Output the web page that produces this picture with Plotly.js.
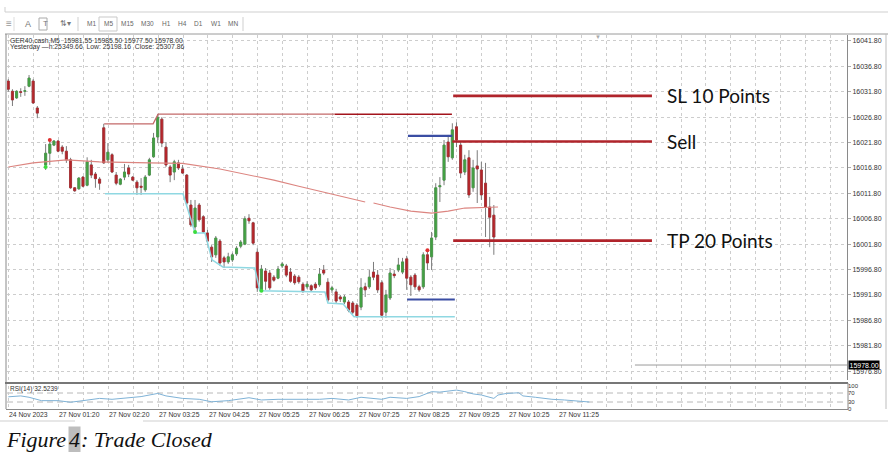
<!DOCTYPE html>
<html><head><meta charset="utf-8">
<script src="https://cdn.plot.ly/plotly-3.0.1.min.js"></script>
<style>body{margin:0;background:#fff}#chart{width:888px;height:452px}</style>
</head><body><div id="chart"></div>
<script>
// ---------- DATA ----------
const open = [16033.9,16031.9,16030.6,16031.8,16031.9,16032.9,16033.9,16028.6,null,
16017.4,16019.7,16021.3,16022.1,16020.9,16020.1,16018.4,16012.9,16012.7,16015.0,
16013.4,16017.4,16015.6,16014.6,16024.7,16018.4,16019.4,16015.4,16013.6,16015.0,
16016.8,16015.0,16014.0,16013.2,16012.5,16015.4,16019.0,16022.9,16026.4,16020.9,
16017.0,16016.0,16017.8,16016.6,16015.4,16009.5,16005.2,16009.5,16007.2,16004.0,
16001.2,15999.7,16002.4,15999.1,15998.3,15998.7,15999.9,16001.4,16001.8,16006.9,
16006.0,16000.2,15992.8,15996.5,15996.1,15995.3,15995.1,15997.5,15997.5,15996.3,
15995.5,15995.3,15993.9,15993.4,15993.6,15993.9,15993.8,15996.7,15994.3,15992.8,
15992.4,15991.4,15990.4,15990.4,15990.2,15989.8,15989.4,15993.4,15993.4,15996.3,
15995.7,15994.2,15988.4,15991.2,15995.9,15996.7,15996.3,15998.9,15995.3,15995.7,
15993.4,15993.4,15999.7,15999.3,16003.2,16013.1,16014.4,16021.9,16018.8,16024.9,
16021.3,16016.0,16018.8,16012.9,16017.2,16016.4,16013.8,16009.1,16007.5];
const high = [16034.3,16032.3,16032.1,16032.5,16032.9,16035.1,16034.3,16029.0,null,
16021.5,16022.3,16022.3,16022.3,16021.3,16021.1,16018.8,16013.0,16015.0,16015.2,
16018.9,16018.4,16016.0,16015.0,16025.5,16021.7,16019.7,16016.0,16014.8,16017.6,
16017.4,16015.2,16014.4,16014.8,16015.4,16018.8,16023.7,16027.4,16026.8,16021.9,
16017.4,16018.4,16018.4,16017.4,16015.6,16010.5,16010.5,16009.9,16007.5,16004.6,
16001.6,16003.4,16002.8,15999.5,16000.1,16000.1,16001.4,16002.6,16007.3,16007.7,
16006.2,16001.0,15997.7,15997.1,15996.7,15995.7,15997.5,15998.3,15997.9,15997.1,
15995.9,15995.7,15994.3,15994.5,15993.9,15994.3,15997.1,15997.7,15995.1,15993.6,
15993.0,15991.8,15991.8,15990.8,15990.6,15990.2,15995.1,15994.2,15996.7,15998.3,
15996.7,15994.7,15992.8,15997.1,15996.7,15999.1,15999.1,15999.5,15995.7,15996.1,
15993.8,16000.2,16000.6,16004.2,16013.8,16015.0,16022.3,16023.3,16025.6,16025.8,
16021.9,16019.4,16020.3,16018.4,16020.3,16018.0,16017.8,16011.1,16009.5];
const low = [16031.8,16029.0,16030.4,16030.8,16031.0,16032.7,16029.4,16026.6,null,
16016.4,16017.4,16021.1,16019.9,16019.5,16017.8,16012.7,16012.1,16012.5,16013.0,
16013.2,16014.8,16012.9,16012.5,16017.6,16017.8,16015.8,16013.4,16013.4,16014.4,
16015.0,16014.2,16011.5,16011.5,16012.1,16015.2,16018.8,16021.7,16020.9,16017.0,
16014.0,16014.4,16016.4,16015.6,16009.5,16005.2,16004.0,16006.2,16004.0,16001.6,
15998.3,15999.1,15997.5,15997.1,15997.9,15998.3,15999.5,16001.0,16001.6,16005.8,
16001.6,15992.4,15992.4,15992.8,15992.8,15994.4,15994.9,15997.1,15995.3,15994.2,
15993.8,15994.0,15992.2,15993.0,15992.4,15992.8,15993.4,15995.7,15990.4,15992.2,
15990.2,15990.4,15990.0,15988.4,15988.0,15987.3,15988.8,15991.4,15993.0,15994.7,
15992.2,15987.3,15987.3,15990.8,15995.1,15996.3,15995.9,15992.8,15991.6,15992.8,
15992.4,15993.0,15996.7,15996.7,16002.6,16010.1,16013.4,16018.0,16018.4,16020.9,
16014.8,16015.4,16010.9,16012.1,16009.9,16010.5,16003.2,16001.2,15999.7];
const close = [16032.3,16030.2,16031.9,16031.7,16032.0,16034.5,16029.6,16027.6,null,
16019.7,16021.5,16022.1,16020.1,16020.1,16018.4,16012.9,16012.3,16014.8,16013.2,
16018.0,16015.4,16014.7,16013.8,16017.8,16019.9,16016.0,16013.8,16014.6,16016.0,
16015.6,16014.4,16012.9,16013.0,16015.0,16018.4,16022.7,16026.8,16021.7,16017.4,
16015.4,16018.0,16016.8,16015.8,16009.9,16005.6,16008.9,16006.6,16004.2,16002.4,
15999.3,16003.0,15998.1,15998.3,15999.3,15999.7,16001.0,16002.2,16006.8,16006.4,
16002.0,15993.2,15996.9,15994.5,15993.2,15994.7,15996.9,15997.9,15995.7,15994.5,
15994.2,15994.4,15992.6,15993.9,15992.8,15993.2,15995.9,15996.1,15990.8,15993.2,
15990.6,15991.0,15991.4,15988.8,15988.4,15987.7,15993.2,15992.8,15995.3,15995.3,
15992.8,15987.8,15991.8,15996.1,15995.6,15997.7,15998.3,15995.1,15993.8,15993.4,
15992.8,15999.7,15998.1,16003.0,16012.9,16013.3,16021.3,16019.0,16024.3,16022.3,
16015.8,16018.4,16011.5,16016.8,16016.6,16011.5,16009.1,16007.1,16003.2];

// moving average (bar index, value), null = gap in the line
const maBar = [0,6,14,22,34,42,51,64,70,78,86,87,88,92,97,102,106,110,118];
const maVal = [16017.0,16017.8,16018.4,16018.0,16017.8,16017.7,16016.6,16014.4,16013.2,16011.7,16010.1,null,16009.9,16009.1,16008.3,16007.9,16008.3,16008.9,16009.1];

// indicator step lines
const upBar = [23.1,34.9,36.1,78.7];
const upVal = [16025.5,16025.5,16027.4,16027.4];
const upBar2 = [78.7,106.9];
const upVal2 = [16027.4,16027.4];
const loBar = [23.3,42.1,45.0,47.4,49.1,51.7,59.4,60.6,76.3,77.0,80.7,83.3,107.6];
const loVal = [16011.7,16011.7,16004.0,16004.0,15998.7,15997.3,15997.1,15992.6,15992.4,15990.2,15990.0,15987.5,15987.5];
const greenDotBar = [9,45,61];
const greenDotVal = [16017.0,16004.2,15992.6];
const redDotBar = [10,101];
const redDotVal = [16022.3,16000.6];

// trade levels
const tradeNames = ['SL 10 Points','Sell','TP 20 Points'];
const tradePrice = [16031.0,16022.0,16002.5];
const tradeFrom = [107.2,107.0,107.2];
const tradeTo = [155.1,155.1,155.1];
const blueLevel = [16023.1,15990.9];
const blueFrom = [96.3,96.1];
const blueTo = [107.0,107.6];
const bidPrice = 15978.0;
const bidFrom = 151;

// RSI(14)
const rsiBar = [0,3,5,8,12,15,18,22,25,29,32,36,38,42,46,49,53,58,61,65,68,72,75,78,82,85,90,92,96,99,102,104,106,108,110,112,114,117,118,120,123,124,127,131,134,137,138,140];
const rsiVal = [53,57,51,36,36,29,36,46,42,49,54,68,57,46,42,31,36,49,39,42,42,39,42,46,39,51,42,51,46,54,76,74,80,83,76,66,61,46,61,68,71,57,51,42,39,35,36,30];
const rsiLevels = [70,30];

// axis ticks / labels
const priceTicks = [16041.8,16036.8,16031.8,16026.8,16021.8,16016.8,16011.8,16006.8,16001.8,15996.8,15991.8,15986.8,15981.8,15976.8];
const rsiTicks = [0,30,70,100];
const timeLabels = ['24 Nov 2023','27 Nov 01:20','27 Nov 02:20','27 Nov 03:25','27 Nov 04:25','27 Nov 05:25','27 Nov 06:25','27 Nov 07:25','27 Nov 08:25','27 Nov 09:25','27 Nov 10:25','27 Nov 11:25'];
const timeBars = [-0.3,11.7,23.8,35.8,47.9,59.9,71.9,84.0,96.0,108.1,120.1,132.1];
const tfButtons = ['M1','M5','M15','M30','H1','H4','D1','W1','MN'];

// ---------- LAYOUT ----------
const W=888,H=452;
const px = x=>x/W, py = y=>1-y/H;
const bars = open.map((_,i)=>i);
const xRange = [-0.31, 202.1];
const FONT = 'Liberation Sans';
const RED='#b3262b', GREEN='#43a043';

const bodyHi = open.map((o,i)=>o==null?null:Math.max(o,close[i]));
const bodyLo = open.map((o,i)=>o==null?null:Math.min(o,close[i]));

const traces = [];
traces.push({type:'candlestick',x:bars,open:open,high:high,low:low,close:close,xaxis:'x',yaxis:'y',
  increasing:{line:{color:'#7c7c7c',width:1},fillcolor:'rgba(0,0,0,0)'},
  decreasing:{line:{color:'#7c7c7c',width:1},fillcolor:'rgba(0,0,0,0)'},
  whiskerwidth:0,showlegend:false,hoverinfo:'skip'});
traces.push({type:'candlestick',x:bars,open:open,high:bodyHi,low:bodyLo,close:close,xaxis:'x',yaxis:'y',
  increasing:{line:{color:GREEN,width:0.6},fillcolor:GREEN},
  decreasing:{line:{color:RED,width:0.6},fillcolor:RED},
  whiskerwidth:0,showlegend:false,hoverinfo:'skip'});
traces.push({type:'scatter',mode:'lines',x:maBar,y:maVal,line:{color:'#dc8580',width:1.1},connectgaps:false,showlegend:false,hoverinfo:'skip'});
traces.push({type:'scatter',mode:'lines',x:upBar,y:upVal,line:{color:'#c46a6a',width:1.3},showlegend:false,hoverinfo:'skip'});
traces.push({type:'scatter',mode:'lines',x:upBar2,y:upVal2,line:{color:'#a3141c',width:1.5},showlegend:false,hoverinfo:'skip'});
traces.push({type:'scatter',mode:'lines',x:loBar,y:loVal,line:{color:'#8fd8e2',width:1.5},showlegend:false,hoverinfo:'skip'});
traces.push({type:'scatter',mode:'markers',x:greenDotBar,y:greenDotVal,marker:{color:'#3bdc3b',size:4},showlegend:false,hoverinfo:'skip'});
traces.push({type:'scatter',mode:'markers',x:redDotBar,y:redDotVal,marker:{color:'#e03030',size:4},showlegend:false,hoverinfo:'skip'});
for(let k=0;k<tradeNames.length;k++){
  traces.push({type:'scatter',mode:'lines',x:[tradeFrom[k],tradeTo[k]],y:[tradePrice[k],tradePrice[k]],line:{color:'#b0242b',width:2.6},showlegend:false,hoverinfo:'skip'});
}
for(let k=0;k<blueLevel.length;k++){
  traces.push({type:'scatter',mode:'lines',x:[blueFrom[k],blueTo[k]],y:[blueLevel[k],blueLevel[k]],line:{color:'#3a4da3',width:2.2},showlegend:false,hoverinfo:'skip'});
}
traces.push({type:'scatter',mode:'lines',x:[bidFrom,xRange[1]],y:[bidPrice,bidPrice],line:{color:'#9a9a9a',width:1},showlegend:false,hoverinfo:'skip'});
traces.push({type:'scatter',mode:'lines',x:rsiBar,y:rsiVal,xaxis:'x2',yaxis:'y2',line:{color:'#7fb2d6',width:1},showlegend:false,hoverinfo:'skip'});

const ann = [];
function txt(t,x,y,o){ann.push(Object.assign({text:t,x:px(x),y:py(y),xref:'paper',yref:'paper',showarrow:false,xanchor:'left',yanchor:'middle',font:{family:FONT,size:7,color:'#333'}},o||{}));}

// header
txt('GER40.cash,M5  15981.55 15985.50 15977.50 15978.00',8,40,{font:{family:FONT,size:6.8,color:'#333'}});
txt('Yesterday \u2014h:25349.66  Low: 25198.16  Close: 25307.86',8,47,{font:{family:FONT,size:6.8,color:'#333'}});
// toolbar
const tfX = [85,102,119,139,160,176,192,209,226];
tfButtons.forEach((b,i)=>txt(b,tfX[i],24,{font:{family:FONT,size:6.5,color:'#666'}}));
txt('\u2261',4,24,{font:{family:FONT,size:10,color:'#999'}});
txt('A',23,24,{font:{family:FONT,size:9,color:'#777'}});
txt('T',41,24,{font:{family:FONT,size:8,color:'#777'}});
txt('\u21C5\u25BE',58,24,{font:{family:FONT,size:8,color:'#777'}});
// time labels
timeLabels.forEach((t,i)=>ann.push({text:t,x:timeBars[i],xref:'x2',y:py(414),yref:'paper',showarrow:false,xanchor:'left',yanchor:'middle',font:{family:FONT,size:6.8,color:'#333'}}));
// RSI label
txt('RSI(14) 32.5239',8,389,{font:{family:FONT,size:6.5,color:'#333'}});
// current price box
ann.push({text:'15978.00',x:px(848),xref:'paper',y:bidPrice,yref:'y',showarrow:false,xanchor:'left',yanchor:'middle',bgcolor:'#000',borderpad:0.5,font:{family:FONT,size:7,color:'#fff'}});
// trade texts
for(let k=0;k<tradeNames.length;k++){
  ann.push({text:tradeNames[k],x:tradeTo[k]+3.2,xref:'x',y:tradePrice[k],yref:'y',showarrow:false,xanchor:'left',yanchor:'middle',font:{family:'Lato',size:19,color:'#111'}});
}
// chart shift marker
txt('\u25BC',593,37,{font:{family:FONT,size:6,color:'#aaa'}});
// caption
const capFont = {family:'Liberation Serif',size:22,color:'#111'};
ann.push({text:'<i>Figure</i>',x:px(4),y:py(439),xref:'paper',yref:'paper',showarrow:false,xanchor:'left',yanchor:'middle',font:capFont});
ann.push({text:'<i>4</i>',x:px(67.5),y:py(439),xref:'paper',yref:'paper',showarrow:false,xanchor:'left',yanchor:'middle',font:capFont,bgcolor:'#bdbdbd',borderpad:0});
ann.push({text:'<i>: Trade Closed</i>',x:px(79),y:py(439),xref:'paper',yref:'paper',showarrow:false,xanchor:'left',yanchor:'middle',font:capFont});

const shapes = [];
function line(x0,y0,x1,y1,c,w,d){shapes.push({type:'line',xref:'paper',yref:'paper',x0:px(x0),y0:py(y0),x1:px(x1),y1:py(y1),line:{color:c,width:w,dash:d||'solid'},layer:'above'});}
function rect(x0,y0,x1,y1,c,f,layer){shapes.push({type:'rect',xref:'paper',yref:'paper',x0:px(x0),y0:py(y0),x1:px(x1),y1:py(y1),line:{color:c,width:c?1:0},fillcolor:f||'rgba(0,0,0,0)',layer:layer||'above'});}
// top strip and toolbar
line(5,12,888,12,'#cfcfcf',1);
line(5,7,5,12,'#cfcfcf',1);
rect(99,17,117,31,'#c9c9c9','rgba(0,0,0,0)');
rect(39,18,47,30,'#aaaaaa','rgba(0,0,0,0)');
line(78,17,78,31,'#cfcfcf',1);
line(243,17,243,31,'#cfcfcf',1);
line(14,17,14,31,'#dddddd',1);
// chart frame
line(5,34,888,34,'#9a9a9a',1);
line(6,34,6,409,'#8a8a8a',1);
line(886,34,886,409,'#bdbdbd',1);
line(5,383,848,383,'#777777',2);
line(6,409.5,848,409.5,'#8a8a8a',1);
line(848,383,848,409,'#8a8a8a',1);
line(0,421,75,421,'#cfcfcf',1);
line(143,421,888,421,'#cfcfcf',1);
// RSI levels
rsiLevels.forEach(v=>shapes.push({type:'line',xref:'x2 domain',yref:'y2',x0:0,x1:1,y0:v,y1:v,line:{color:'#b8b8b8',width:1,dash:'6px,4px'},layer:'below'}));

const gridCol='#cdcdcd';
const layout = {
  width:W,height:H,margin:{l:0,r:0,t:0,b:0},paper_bgcolor:'#fff',plot_bgcolor:'#fff',
  showlegend:false,hovermode:false,dragmode:false,boxmode:'overlay',
  xaxis:{domain:[px(7),px(847)],range:xRange,showgrid:true,gridcolor:gridCol,griddash:'dot',gridwidth:1,
    tickmode:'linear',tick0:0.1,dtick:6,showticklabels:false,ticks:'',zeroline:false,showline:false,
    rangeslider:{visible:false},fixedrange:true,anchor:'y'},
  yaxis:{domain:[py(380),py(35)],range:[15975.05,16042.98],side:'right',anchor:'x',
    tickmode:'array',tickvals:priceTicks,ticktext:priceTicks.map(v=>v.toFixed(2)),
    tickfont:{family:FONT,size:7,color:'#333'},ticks:'outside',ticklen:3,tickcolor:'#aaaaaa',
    showgrid:true,gridcolor:gridCol,griddash:'dot',zeroline:false,showline:true,linecolor:'#8a8a8a',linewidth:1,fixedrange:true},
  xaxis2:{domain:[px(7),px(847)],range:xRange,anchor:'y2',showgrid:true,gridcolor:gridCol,griddash:'dot',
    tickmode:'linear',tick0:0.1,dtick:6,showticklabels:false,ticks:'',zeroline:false,showline:false,fixedrange:true},
  yaxis2:{domain:[py(408.75),py(386.25)],range:[0,100],side:'right',anchor:'x2',tickmode:'array',tickvals:rsiTicks,
    ticktext:rsiTicks.map(String),tickfont:{family:FONT,size:6,color:'#333'},ticks:'',showgrid:false,zeroline:false,showline:false,fixedrange:true},
  annotations:ann,shapes:shapes
};
Plotly.newPlot('chart',traces,layout,{staticPlot:true,displayModeBar:false});
</script>
</body></html>
